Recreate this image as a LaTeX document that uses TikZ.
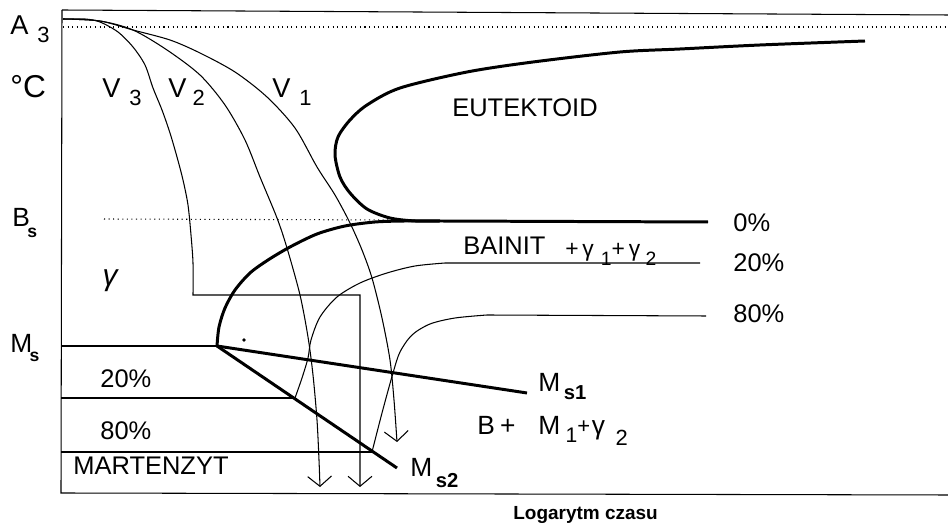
\documentclass[tikz,border=0pt]{standalone}
\usepackage{fontspec}
\setmainfont{Liberation Sans}
\usetikzlibrary{arrows.meta}
\begin{document}
\begin{tikzpicture}[x=0.02cm,y=-0.02cm,
  fine/.style={line width=0.6pt},
  heavy/.style={line width=1.7pt},
  arr/.style={-{Straight Barb[length=5.7pt,width=13.6pt]}},
  lbl/.style={anchor=base west,inner sep=0pt,font=\fontsize{14.5}{17}\selectfont}]
\useasboundingbox (0,0) rectangle (948,526);
% frame
\coordinate (tl) at (62,10);
\coordinate (tr) at (948,15);
\coordinate (bl) at (61,493);
\coordinate (br) at (948,495);
\draw[fine] (tl) -- (tr);
\draw[fine] (tl) -- (bl) -- (br);
% reference temperatures
\coordinate (a3l) at (63,27);
\coordinate (a3r) at (948,27);
\draw[fine,dotted] (a3l) -- (a3r);
\coordinate (bsl) at (104,219);
\coordinate (bsr) at (400,220);
\draw[fine,dotted] (bsl) -- (bsr);
% Ms lines
\coordinate (msl) at (61,346);
\coordinate (msj) at (217,346);
\coordinate (ms1e) at (527,393);
\coordinate (ms2e) at (397,468);
\draw[heavy] (msl) -- (msj);
\draw[heavy] (msj) -- (ms1e);
\draw[heavy] (msj) -- (ms2e);
% martensite fraction lines
\coordinate (m20l) at (61,398);
\coordinate (m20r) at (295,398);
\coordinate (m80l) at (61,452);
\coordinate (m80r) at (372,452);
\draw[fine] (m20l) -- (m20r);
\draw[fine] (m80l) -- (m80r);
% eutectoid C-curve
\draw[heavy] plot[smooth] coordinates {(865,41) (760,45) (680,49) (620,52) (533,62) (467,72) (400,88) (367,105) (350,120) (338,137) (335,155) (340,177) (350,193) (367,209) (390,218) (415,221) (440,221)} -- (708,222);
% bainite start
\draw[heavy] plot[smooth] coordinates {(217,346) (219,327) (225,308) (235,290) (250,273) (268,260) (290,247) (317,234) (345,226) (375,222) (405,221) (440,221)};
% 20 % bainite
\draw[fine] plot[smooth] coordinates {(295,398) (302,378) (308,358) (311,340) (320,317) (337,297) (360,283) (387,273) (415,266) (445,263)} -- (700,263);
% 80 % bainite
\draw[fine] plot[smooth] coordinates {(372,452) (382,413) (393,373) (400,352) (412,335) (430,324) (455,318) (487,315)} -- (706,316);
% cooling curves
\draw[fine,arr] plot[smooth] coordinates {(63,19) (85,19) (100,22) (118,32) (133,47) (145,65) (153,88) (162,110) (170,133) (177,157) (183,180) (188,205) (191,235) (193,263) (193,295)} -- (360,295) -- (360,487);
\draw[fine,arr] plot[smooth] coordinates {(63,19) (100,21) (133,30) (167,50) (200,75) (225,105) (245,140) (260,177) (277,218) (287,248) (300,295) (308,337) (313,375) (317,420) (319,460) (320,487)};
\draw[fine,arr] plot[smooth] coordinates {(63,19) (100,21) (133,30) (170,40) (200,53) (235,72) (267,97) (295,128) (317,167) (335,195) (350,223) (362,250) (372,278) (382,318) (390,360) (394,400) (397,442)};
\fill (244,340) circle[radius=1pt];
% labels
\node[lbl,font=\fontsize{15.5}{18}\selectfont] (a3) at (10,35) {A\hspace{5pt}\raisebox{-4.5pt}{\fontsize{12.5}{14}\selectfont 3}};
\node[lbl,font=\fontsize{18}{20}\selectfont] (degc) at (10,98) {°C};
\node[lbl,font=\fontsize{15.5}{18}\selectfont] (v3) at (102,98) {V\hspace{5pt}\raisebox{-4pt}{\fontsize{12.5}{14}\selectfont 3}};
\node[lbl,font=\fontsize{15.5}{18}\selectfont] (v2) at (168,98) {V\hspace{3.5pt}\raisebox{-4pt}{\fontsize{12.5}{14}\selectfont 2}};
\node[lbl,font=\fontsize{15.5}{18}\selectfont] (v1) at (272,98) {V\hspace{5pt}\raisebox{-4pt}{\fontsize{12.5}{14}\selectfont 1}};
\node[lbl,font=\fontsize{15}{18}\selectfont] (bs) at (12,227) {B\kern-1.5pt\raisebox{-6pt}{\fontsize{10}{12}\selectfont\bfseries s}};
\node[lbl,font=\fontsize{15}{18}\selectfont] (ms) at (10,353) {M\kern-1.5pt\raisebox{-5pt}{\fontsize{10}{12}\selectfont\bfseries s}};
\node[anchor=center,inner sep=0pt,font=\fontsize{17}{20}\selectfont\itshape] (gam) at (110,281) {γ};
\node[lbl] (eut) at (452,117) {EUTEKTOID};
\node[lbl] (bain) at (463,255) {BAINIT};
\node[lbl,font=\fontsize{13}{15}\selectfont] (bplus) at (565,257) {+\,γ\hspace{4pt}\raisebox{-5pt}{\fontsize{11}{13}\selectfont 1}+\,γ\hspace{3pt}\raisebox{-5pt}{\fontsize{11}{13}\selectfont 2}};
\node[lbl] (p0) at (733,232) {0\%};
\node[lbl] (p20) at (733,272) {20\%};
\node[lbl] (p80) at (733,323) {80\%};
\node[lbl] (l20) at (100,388) {20\%};
\node[lbl] (l80) at (100,440) {80\%};
\node[lbl] (mart) at (73,475) {MARTENZYT};
\node[lbl,font=\fontsize{15}{18}\selectfont] (ms1) at (538,392) {M\hspace{2pt}\raisebox{-4.5pt}{\fontsize{11.5}{13}\selectfont\bfseries s1}};
\node[lbl,font=\fontsize{15}{18}\selectfont] (bm) at (477,435) {B\hspace{3pt}+\hspace{13pt}M\hspace{3pt}\raisebox{-4pt}{\fontsize{12}{14}\selectfont 1}\raisebox{1pt}{\fontsize{12.5}{14}\selectfont +}\hspace{1pt}γ\hspace{6pt}\raisebox{-6pt}{\fontsize{12.5}{14}\selectfont 2}};
\node[lbl,font=\fontsize{15}{18}\selectfont] (ms2) at (410,477) {M\hspace{2pt}\raisebox{-5.7pt}{\fontsize{11.5}{13}\selectfont\bfseries s2}};
\node[anchor=base west,inner sep=0pt,font=\fontsize{10.8}{13}\selectfont\bfseries] (xlab) at (513,520) {Logarytm czasu};
\end{tikzpicture}
\end{document}
